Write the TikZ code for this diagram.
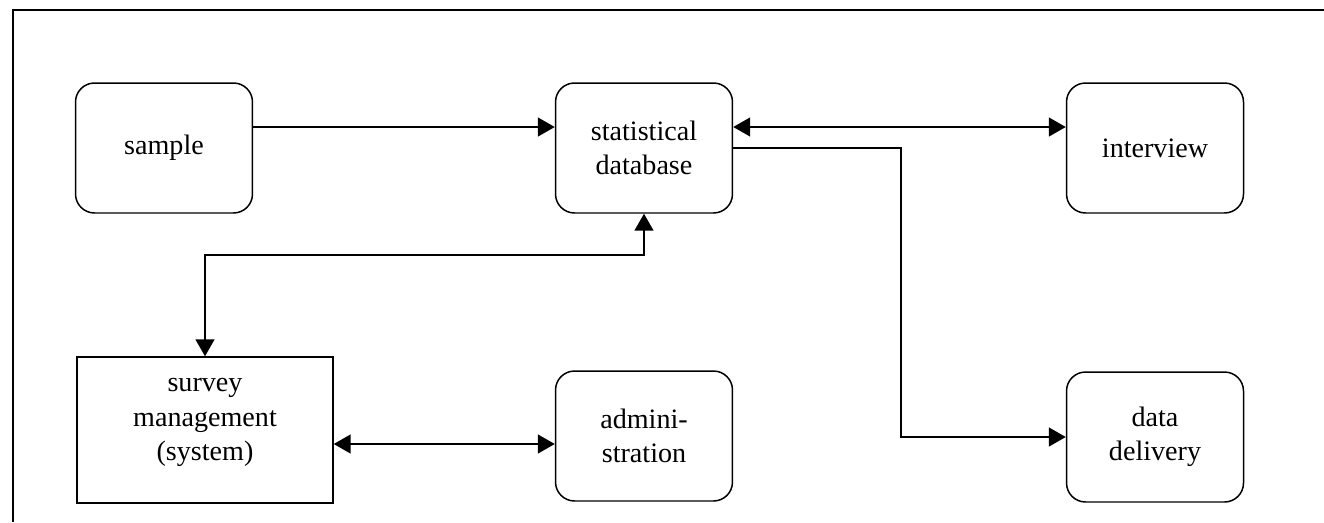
\documentclass[tikz,border=0pt]{standalone}
\usepackage{fontspec}
\setmainfont{Liberation Serif}
\usetikzlibrary{arrows.meta}

\begin{document}
\begin{tikzpicture}[x=0.02cm,y=-0.02cm,line width=0.85pt,
		>={Triangle[length=0.34cm,width=0.38cm]},
		stage/.style={draw,rounded corners=0.38cm,minimum width=3.54cm,minimum height=2.6cm,inner sep=0pt,align=center,font=\fontsize{16}{19.5}\selectfont},
		unit/.style={draw,minimum width=5.12cm,minimum height=2.92cm,inner sep=0pt,align=center,font=\fontsize{16}{19.5}\selectfont}]
		\useasboundingbox (0,0) rectangle (1324,522);
		\draw (1324,10) -- (13,10) -- (13,522);
		\node[stage] (sample) at (164,148) {sample};
		\node[stage] (statdb) at (644,148) {statistical\\database};
		\node[stage] (interview) at (1155,148) {interview};
		\node[unit,text depth=0.42cm] (survey) at (205,430) {survey\\management\\(system)};
		\node[stage] (admin) at (644,436) {admini-\\stration};
		\node[stage] (delivery) at (1155,437) {data\\delivery};
		\coordinate (toprow) at (0,127);
		\coordinate (lowrow) at (0,444);
		\coordinate (split) at (901,300);
		\coordinate (joint) at (400,255);
		\draw[->] (sample.east |- toprow) -- (statdb.west |- toprow);
		\draw[<->] (statdb.east |- toprow) -- (interview.west |- toprow);
		\draw[->] (statdb.east) -- (statdb.east -| split) |- (delivery.west);
		\draw[<->] (statdb.south) |- (joint) -| (survey.north);
		\draw[<->] (survey.east |- lowrow) -- (admin.west |- lowrow);
	\end{tikzpicture}
\end{document}
